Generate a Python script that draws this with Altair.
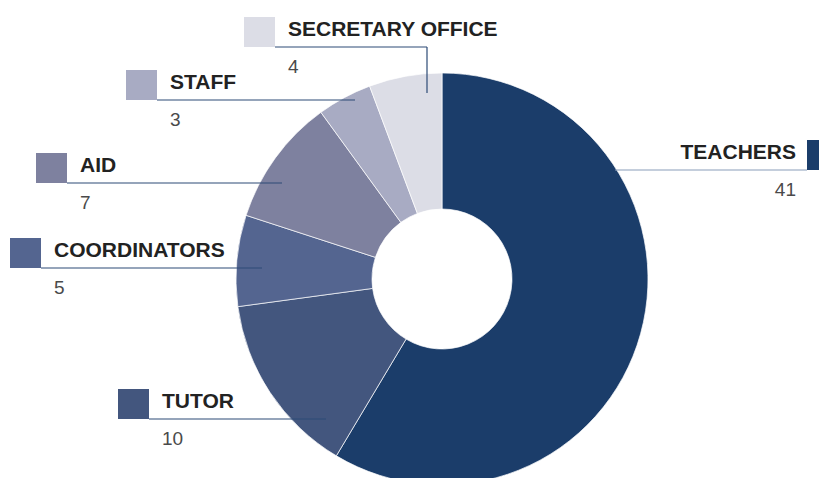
import altair as alt
import pandas as pd

# ---- data ----
categories = ["TEACHERS", "TUTOR", "COORDINATORS", "AID", "STAFF", "SECRETARY OFFICE"]
values = [41, 10, 5, 7, 3, 4]
colors = ["#1b3d6a", "#43567e", "#546590", "#7e819f", "#a8abc3", "#dcdde6"]

# ---- label layout (chart pixel coords) ----
box_left = [799, 110, 2, 28, 118, 236]
box_top = [132, 381, 230, 145, 62, 9]
box_w = 31
text_x = [788, 154, 46, 72, 162, 280]
text_align = ["right", "left", "left", "left", "left", "left"]
line_x1 = [607, 141, 33, 59, 149, 267]
line_x2 = [799, 318, 254, 274, 347, 419]
line_colors = ["#8a9dba", "#2c4a76", "#2c4a76", "#2c4a76", "#2c4a76", "#2c4a76"]
elbow_bottom = 85  # secretary office leader drops into its slice

W, H = 811, 470
CX, CY = 434, 271

pie = pd.DataFrame({"cat": categories, "value": values, "order": list(range(len(values)))})
lab = pd.DataFrame({
    "cat": categories,
    "value": [str(v) for v in values],
    "bx0": box_left,
    "bx1": [b + box_w for b in box_left],
    "by0": box_top,
    "by1": [t + 30 for t in box_top],
    "tx": text_x,
    "ty": [t + 19 for t in box_top],
    "vy": [t + 56 for t in box_top],
    "lx1": line_x1,
    "lx2": line_x2,
    "ly": [t + 30 for t in box_top],
    "lc": line_colors,
    "align": text_align,
})

xs = alt.Scale(domain=[0, W], range=[0, W], nice=False, zero=False)
ys = alt.Scale(domain=[0, H], range=[0, H], nice=False, zero=False)
cscale = alt.Scale(domain=categories, range=colors)

arc = alt.Chart(pie).mark_arc(outerRadius=206, innerRadius=70, stroke="white", strokeWidth=0.7).encode(
    theta=alt.Theta("value:Q", stack=True),
    order=alt.Order("order:Q"),
    color=alt.Color("cat:N", scale=cscale, legend=None),
    x=alt.value(CX),
    y=alt.value(CY),
)

boxes = alt.Chart(lab).mark_rect().encode(
    x=alt.X("bx0:Q", scale=xs, axis=None),
    x2="bx1:Q",
    y=alt.Y("by0:Q", scale=ys, axis=None),
    y2="by1:Q",
    color=alt.Color("cat:N", scale=cscale, legend=None),
)

rules = alt.Chart(lab).mark_rule(strokeWidth=1.2).encode(
    x=alt.X("lx1:Q", scale=xs, axis=None),
    x2="lx2:Q",
    y=alt.Y("ly:Q", scale=ys, axis=None),
    stroke=alt.Stroke("lc:N", scale=None),
)

sec = lab[lab["cat"] == "SECRETARY OFFICE"].copy()
sec["ey"] = elbow_bottom
vrule = alt.Chart(sec).mark_rule(strokeWidth=1.2, color="#2c4a76").encode(
    x=alt.X("lx2:Q", scale=xs, axis=None),
    y=alt.Y("ly:Q", scale=ys, axis=None),
    y2="ey:Q",
)

def texts(align):
    base = alt.Chart(lab).transform_filter(alt.datum.align == align)
    t1 = base.mark_text(align=align, baseline="alphabetic", font="Liberation Sans",
                        fontSize=21, fontWeight="bold", color="#222222").encode(
        x=alt.X("tx:Q", scale=xs, axis=None),
        y=alt.Y("ty:Q", scale=ys, axis=None),
        text="cat:N",
    )
    t2 = base.mark_text(align=align, baseline="alphabetic", font="Liberation Sans",
                        fontSize=19, fontWeight="normal", color="#4a4a4a").encode(
        x=alt.X("tx:Q", scale=xs, axis=None),
        y=alt.Y("vy:Q", scale=ys, axis=None),
        text="value:N",
    )
    return t1 + t2

chart = alt.layer(arc, boxes, rules, vrule, texts("left"), texts("right")).properties(
    width=W, height=H, autosize=alt.AutoSizeParams(type="none"), padding=0
).configure_view(stroke=None)

chart.save("out.html", embed_options={"renderer": "svg", "actions": False})
